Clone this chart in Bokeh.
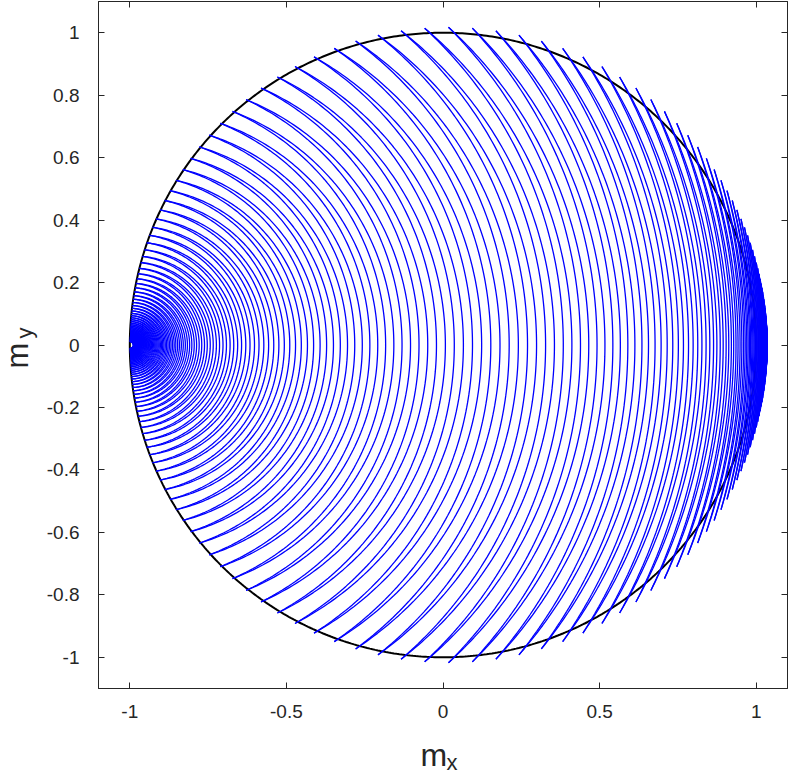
import numpy as np
from bokeh.plotting import figure
from bokeh.models import ColumnDataSource, FixedTicker, LinearAxis, Label
from bokeh.embed import file_html
from bokeh.resources import INLINE

# Angular offsets (deg, measured from the m_y axis) of the trajectory start points on the unit circle
offset_deg = [0.00, 4.29, 8.56, 12.78, 16.94, 21.00, 24.95, 28.79, 32.48, 36.03,
              39.43, 42.67, 45.75, 48.67, 51.43, 54.03, 56.48, 58.78, 60.93, 62.95,
              64.84, 66.61, 68.26, 69.80, 71.23, 72.56, 73.81, 74.96, 76.04, 77.04,
              77.97, 78.83, 79.63, 80.38, 81.07, 81.72, 82.31, 82.87, 83.38, 83.86,
              84.30, 84.71, 85.09, 85.44, 85.77, 86.08, 86.36, 86.62, 86.87, 87.09,
              87.30, 87.50, 87.68, 87.85, 88.00, 88.15, 88.28, 88.41, 88.52, 88.63,
              88.73, 88.82, 88.90, 88.98, 89.06, 89.13, 89.19, 89.25, 89.30, 89.35,
              89.40]
# relative overshoot of the trajectories beyond the unit circle
overshoot = 0.0175

x_ticks = [-1, -0.5, 0, 0.5, 1]
x_tick_labels = ["-1", "-0.5", "0", "0.5", "1"]
y_ticks = [-1, -0.8, -0.6, -0.4, -0.2, 0, 0.2, 0.4, 0.6, 0.8, 1]
y_tick_labels = ["-1", "-0.8", "-0.6", "-0.4", "-0.2", "0", "0.2", "0.4", "0.6", "0.8", "1"]

AX = "#262626"
FONT = "Liberation Sans"

start_deg = np.array(sorted(set([90 + o for o in offset_deg] + [90 - o for o in offset_deg])))
half = np.radians(start_deg) / 2.0
r0 = 2.0 * np.cos(half) * (1 + overshoot)
gap = np.empty_like(r0)
gap[1:] = r0[:-1] - r0[1:]
gap[0] = gap[1]

xs, ys = [], []
for h, r, g in zip(half, r0, gap):
    beta = np.linspace(h, -h, 160)
    bulge = 0.5 * g * (1 - (beta / h) ** 2)
    for rr in (r + 0 * beta, r + bulge):
        xs.append((-1.0 + rr * np.cos(beta)).tolist())
        ys.append((rr * np.sin(beta)).tolist())

t = np.linspace(0, 2 * np.pi, 721)
circ = ColumnDataSource(dict(x=np.cos(t), y=np.sin(t)))
traj = ColumnDataSource(dict(xs=xs, ys=ys))

p = figure(width=789, height=778, x_range=(-1.1, 1.1), y_range=(-1.1, 1.1),
           output_backend="svg", toolbar_location=None,
           min_border_left=98, min_border_right=2, min_border_top=0, min_border_bottom=91,
           margin=(1, 0, 0, 0))
p.grid.visible = False
p.background_fill_color = "white"
p.outline_line_color = AX
p.outline_line_width = 1

p.line("x", "y", source=circ, line_color="black", line_width=2)
p.multi_line("xs", "ys", source=traj, line_color="#0000ff", line_width=1.3)


def style_axis(ax, ticks, labels, show):
    ax.ticker = FixedTicker(ticks=ticks)
    ax.major_label_overrides = {v: s for v, s in zip(ticks, labels)}
    ax.minor_tick_line_color = None
    ax.minor_tick_out = 0
    ax.minor_tick_in = 0
    ax.major_tick_in = 6
    ax.major_tick_out = 0
    ax.axis_line_color = AX
    ax.major_tick_line_color = AX
    ax.major_label_text_font = FONT
    if show:
        ax.major_label_text_color = AX
        ax.major_label_text_font_size = "19px"
    else:
        ax.major_label_text_color = None
        ax.major_label_text_font_size = "1px"
        ax.major_label_standoff = 0


style_axis(p.xaxis[0], x_ticks, x_tick_labels, True)
style_axis(p.yaxis[0], y_ticks, y_tick_labels, True)
p.xaxis[0].major_label_standoff = 16
p.yaxis[0].major_label_standoff = 19

top = LinearAxis()
right = LinearAxis()
style_axis(top, x_ticks, x_tick_labels, False)
style_axis(right, y_ticks, y_tick_labels, False)
p.add_layout(top, "above")
p.add_layout(right, "right")

# axis titles (m_x, m_y) with subscripts, placed in side panels so they are not clipped
lab = dict(text_font=FONT, text_color=AX, text_align="left", text_baseline="alphabetic")
p.add_layout(Label(x=-0.0718, y=-1.3114, text="m", text_font_size="32px", **lab), "left")
p.add_layout(Label(x=0.0112, y=-1.3370, text="x", text_font_size="22px", **lab), "left")
p.add_layout(Label(x=-1.3586, y=-0.0753, text="m", text_font_size="31px", angle=np.pi / 2, **lab), "below")
p.add_layout(Label(x=-1.3363, y=0.0208, text="y", text_font_size="22px", angle=np.pi / 2, **lab), "below")

open("out.html", "w").write(file_html(p, INLINE))
